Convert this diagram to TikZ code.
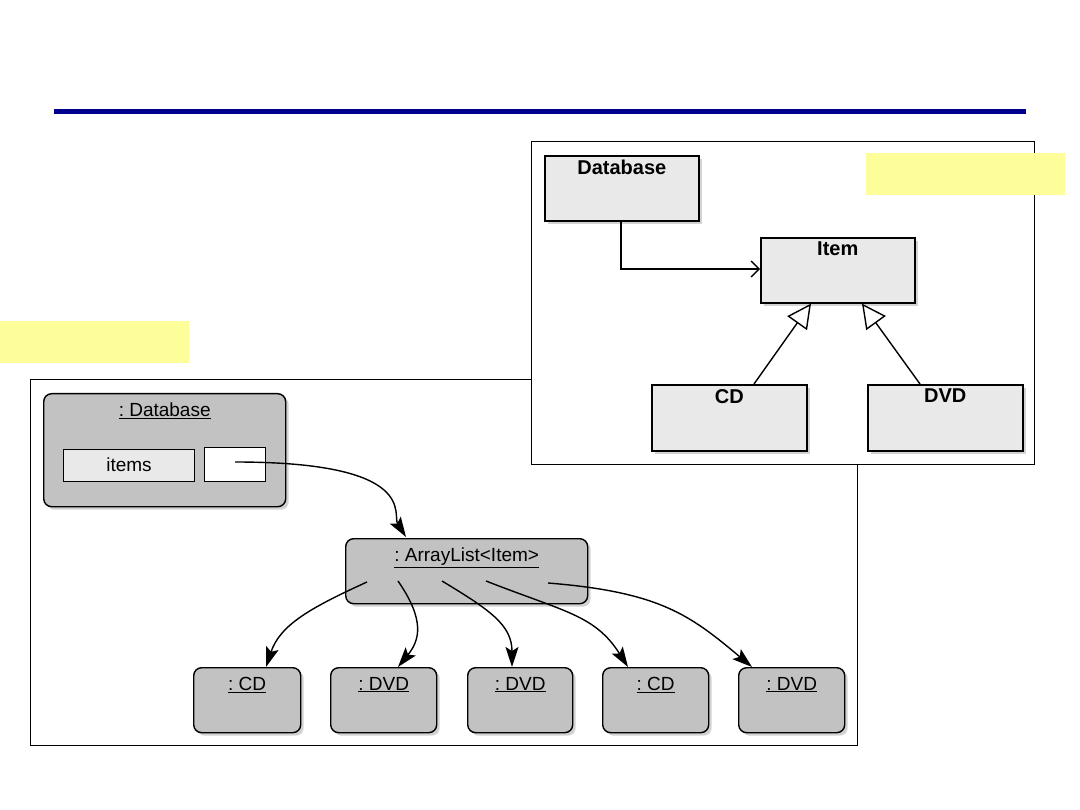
\documentclass[tikz,border=0pt]{standalone}
\usepackage{fontspec}
\setmainfont{Liberation Sans}
\usetikzlibrary{shadows,arrows.meta}
\definecolor{navyline}{RGB}{0,0,140}
\definecolor{hilite}{RGB}{253,253,153}
\definecolor{classfill}{RGB}{233,233,233}
\definecolor{objfill}{RGB}{194,194,194}
\definecolor{slotfill}{RGB}{233,233,233}
\frenchspacing
\tikzset{
  classbox/.style={draw, line width=1.6pt, fill=classfill, inner sep=0pt, anchor=north west,
    drop shadow={shadow xshift=3pt, shadow yshift=-3pt, opacity=0.35}},
  objbox/.style={draw, line width=1.4pt, fill=objfill, rounded corners=8pt, inner sep=0pt, anchor=north west,
    drop shadow={shadow xshift=3pt, shadow yshift=-3pt, opacity=0.35}},
  slotbox/.style={draw, line width=1.1pt, inner sep=0pt, anchor=north west},
  ctitle/.style={anchor=north, inner sep=0pt, yshift=-5pt, font=\fontsize{20}{22}\selectfont\bfseries},
  otitle/.style={anchor=north, inner sep=0pt, yshift=-10pt, font=\fontsize{19}{22}\selectfont},
  link/.style={line width=1.4pt, -{Stealth[length=20pt,width=13pt,inset=4pt]}},
  assoc/.style={line width=1.4pt, -{Straight Barb[length=8pt,width=16pt]}},
  inherit/.style={line width=1.4pt, -{Triangle[open,length=24pt,width=24pt,fill=white]}},
}
\begin{document}
\begin{tikzpicture}[x=1pt,y=-1pt]
\useasboundingbox[fill=white] (0,0) rectangle (1080,810);
% title rule
\draw[navyline, line width=5pt] (54,112) -- (1026,112);
% yellow highlights
\fill[hilite] (0,321) rectangle (189,363);

% ---------- object diagram frame ----------
\draw[line width=0.8pt] (30,379) rectangle (857,745);

\node[objbox, minimum width=242pt, minimum height=113pt,
  label={[otitle]north:\underline{: Database}}] (db) at (43,393) {};
\node[slotbox, fill=slotfill, minimum width=131pt, minimum height=32pt,
  font=\fontsize{19}{22}\selectfont] (items) at (63,449) {\raisebox{2pt}{items}};
\node[slotbox, fill=white, minimum width=61pt, minimum height=34pt] (ref) at (204,447) {};
\coordinate (refpt) at (235,462);

\node[objbox, minimum width=242pt, minimum height=65pt,
  label={[otitle]north:\underline{: ArrayList<Item>}}] (al) at (345,538) {};

\node[objbox, minimum width=107pt, minimum height=65pt,
  label={[otitle]north:\underline{: CD}}] (cd1) at (193,667) {};
\node[objbox, minimum width=106pt, minimum height=65pt,
  label={[otitle]north:\underline{: DVD}}] (dvd1) at (330,667) {};
\node[objbox, minimum width=105pt, minimum height=65pt,
  label={[otitle]north:\underline{: DVD}}] (dvd2) at (467,667) {};
\node[objbox, minimum width=106pt, minimum height=65pt,
  label={[otitle]north:\underline{: CD}}] (cd2) at (602,667) {};
\node[objbox, minimum width=106pt, minimum height=65pt,
  label={[otitle]north:\underline{: DVD}}] (dvd3) at (738,667) {};

\coordinate (s1) at (367,582);
\coordinate (s2) at (398,581);
\coordinate (s3) at (442,581);
\coordinate (s4) at (486,581);
\coordinate (s5) at (548,583);
\coordinate (t0) at (406,537);
\coordinate (t1) at (266,667);
\coordinate (t2) at (398,667);
\coordinate (t3) at (512,667);
\coordinate (t4) at (628,667);
\coordinate (t5) at (752,667);

\draw[link] (refpt) .. controls (420,462) and (392,515) .. (t0);
\draw[link] (s1) .. controls (310,608) and (280,625) .. (t1);
\draw[link] (s2) .. controls (425,620) and (420,640) .. (t2);
\draw[link] (s3) .. controls (490,610) and (512,625) .. (t3);
\draw[link] (s4) .. controls (565,612) and (595,615) .. (t4);
\draw[link] (s5) .. controls (660,592) and (690,615) .. (t5);

% ---------- class diagram frame ----------
\draw[line width=0.8pt, fill=white] (531,141) rectangle (1034,464);
\fill[hilite] (866,153) rectangle (1065,195);

\node[classbox, minimum width=154pt, minimum height=65pt,
  label={[ctitle]north:Database}] (cdb) at (544,155) {};
\node[classbox, minimum width=154pt, minimum height=65pt,
  label={[ctitle]north:Item}] (citem) at (760,237) {};
\node[classbox, minimum width=155pt, minimum height=66pt,
  label={[ctitle]north:CD}] (ccd) at (651,384) {};
\node[classbox, minimum width=155pt, minimum height=66pt,
  label={[ctitle]north:DVD}] (cdvd) at (867,384) {};

\coordinate (bend) at (621,269);
\draw[assoc] (cdb.south -| bend) -- (bend) -- (citem.west |- bend);
\draw[inherit] (ccd.north -| 754,0) -- (citem.south -| 811,0);
\draw[inherit] (cdvd.north -| 920,0) -- (citem.south -| 862,0);
\end{tikzpicture}
\end{document}
